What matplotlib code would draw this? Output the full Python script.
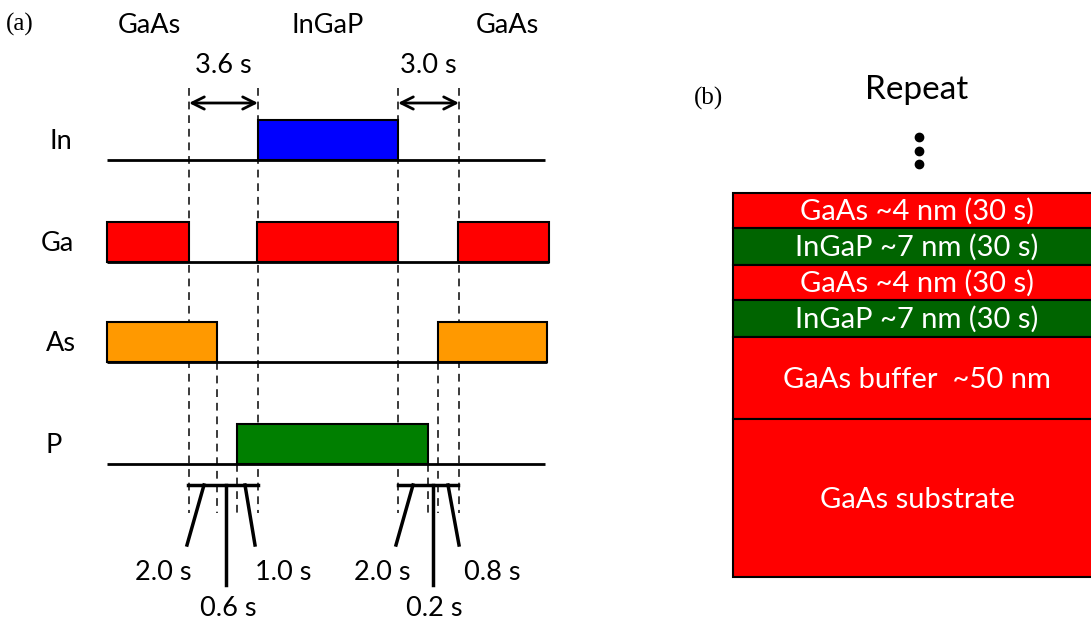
import matplotlib
matplotlib.use("Agg")
import matplotlib.pyplot as plt
from matplotlib.patches import Rectangle

# ---------------- data ----------------
# Panel (a): shutter sequence (schematic timeline, diagram units)
species = ['In', 'Ga', 'As', 'P']
species_colors = ['#0000FF', '#FF0000', '#FF9900', '#007F00']
open_intervals = [
    [(258, 398)],
    [(107, 189), (257, 398), (458, 549)],
    [(107, 217), (438, 547)],
    [(237, 428)],
]
line_extent = [(107, 545), (107, 549), (107, 547), (107, 545)]
row_base = [160, 262, 362, 464]
phase_labels = ['GaAs', 'InGaP', 'GaAs']
phase_pos = [149, 328, 507]
gap_labels = ['3.6 s', '3.0 s']
gap_spans = [(189, 258), (398, 459)]
left_steps = ['2.0 s', '0.6 s', '1.0 s']
right_steps = ['2.0 s', '0.2 s', '0.8 s']
main_events = [189, 258, 398, 459]
sub_events = [(217, 362), (237, 464), (428, 464), (438, 362)]

# Panel (b): layer stack (top to bottom)
layer_names = ['GaAs ~4 nm (30 s)', 'InGaP ~7 nm (30 s)', 'GaAs ~4 nm (30 s)',
               'InGaP ~7 nm (30 s)', 'GaAs buffer  ~50 nm', 'GaAs substrate']
layer_colors = ['#FF0000', '#006400', '#FF0000', '#006400', '#FF0000', '#FF0000']
layer_thickness = [35, 37, 35, 37, 82, 158]

# ---------------- figure ----------------
W, H = 1091, 621
fig = plt.figure(figsize=(W / 100, H / 100), dpi=100)
ax = fig.add_axes([0, 0, 1, 1])
ax.set_xlim(0, W)
ax.set_ylim(H, 0)
ax.axis('off')

sans = 'Lato'
serif = 'Liberation Serif'
fs = 19.5
dash_kw = dict(color='#3a3a3a', lw=1.4, dashes=(4, 3))

# panel labels
ax.text(6, 31, '(a)', family=serif, fontsize=18, ha='left', va='baseline')
ax.text(694, 105, '(b)', family=serif, fontsize=18, ha='left', va='baseline')

for lab, x in zip(phase_labels, phase_pos):
    ax.text(x, 33, lab, family=sans, fontsize=fs, ha='center', va='baseline')

# dashed event lines
for x in main_events:
    ax.plot([x, x], [88, 513], **dash_kw)
for x, ytop in sub_events:
    ax.plot([x, x], [ytop, 513], **dash_kw)

# gap arrows
for lab, (x0, x1) in zip(gap_labels, gap_spans):
    ax.annotate('', xy=(x0, 103), xytext=(x1, 103),
                arrowprops=dict(arrowstyle='<->', lw=2, color='black',
                                mutation_scale=22, shrinkA=0, shrinkB=0))
    ax.text((x0 + x1) / 2, 73, lab, family=sans, fontsize=fs, ha='center', va='baseline')

# shutter rows
label_x = [50, 41, 46, 46]
for name, col, ivs, ext, yb, lx in zip(species, species_colors, open_intervals,
                                        line_extent, row_base, label_x):
    ax.plot([ext[0], ext[1]], [yb, yb], color='black', lw=2, solid_capstyle='butt')
    for (a, b) in ivs:
        ax.add_patch(Rectangle((a, yb - 40), b - a, 40, facecolor=col,
                               edgecolor='black', lw=1.5, zorder=3))
    ax.text(lx, yb - 11, name, family=sans, fontsize=fs, ha='left', va='baseline')

# brackets and leader lines
blw = 2.5
ax.plot([188, 258], [485, 485], color='black', lw=blw)
ax.plot([398, 458], [485, 485], color='black', lw=blw)
leaders = [((204, 485), (187, 545)), ((226, 485), (226, 585)), ((245, 485), (255, 545)),
           ((413, 485), (396, 545)), ((433, 485), (433, 585)), ((448, 485), (459, 545))]
for (p0, p1) in leaders:
    ax.plot([p0[0], p1[0]], [p0[1], p1[1]], color='black', lw=blw)

step_pos = [(163, 580), (228, 616), (283, 580)]
for lab, (x, y) in zip(left_steps, step_pos):
    ax.text(x, y, lab, family=sans, fontsize=fs, ha='center', va='baseline')
step_pos_r = [(382, 580), (434, 616), (492, 580)]
for lab, (x, y) in zip(right_steps, step_pos_r):
    ax.text(x, y, lab, family=sans, fontsize=fs, ha='center', va='baseline')

# ---------------- panel (b) ----------------
ax.text(917, 99, 'Repeat', family=sans, fontsize=24, ha='center', va='baseline')
ax.plot([919, 919, 919], [137, 151, 164], 'o', color='black', ms=6)

x_left, x_right = 733, 1101
y = 193
for name, col, t in zip(layer_names, layer_colors, layer_thickness):
    ax.add_patch(Rectangle((x_left, y), x_right - x_left, t, facecolor=col,
                           edgecolor='black', lw=1.5, zorder=2))
    ax.text(917, y + t / 2 + 9.5, name, family=sans, fontsize=21, color='white',
            ha='center', va='baseline', zorder=3)
    y += t

fig.savefig('out.png', dpi=100)
